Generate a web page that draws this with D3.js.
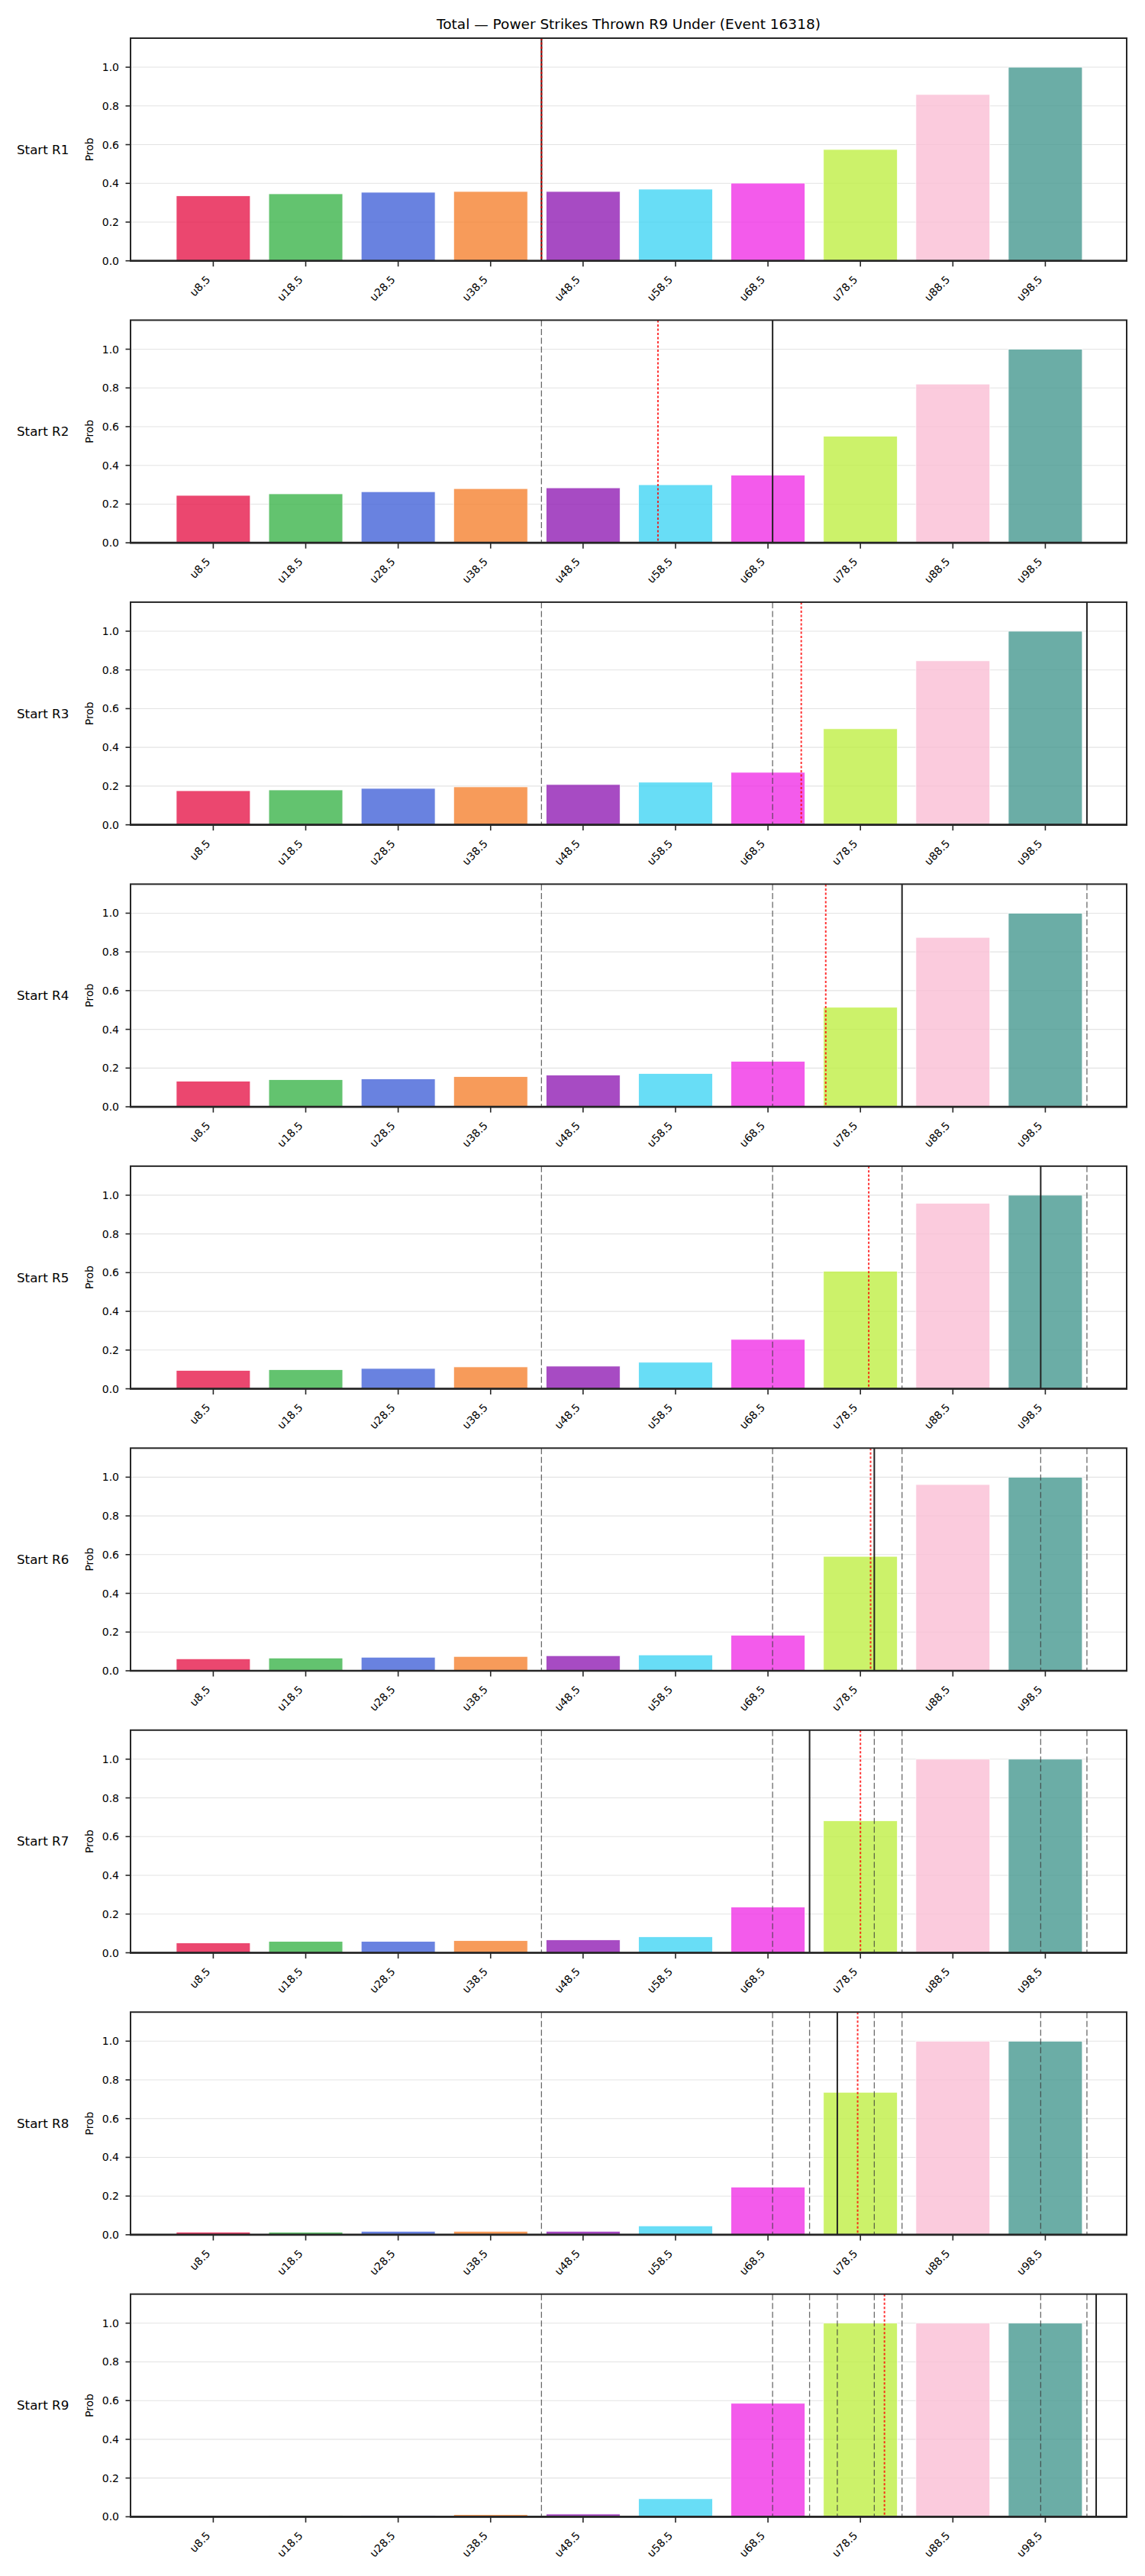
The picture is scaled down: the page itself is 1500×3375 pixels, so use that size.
<!DOCTYPE html>
<html>
<head>
<meta charset="utf-8">
<script src="https://cdn.jsdelivr.net/npm/d3@7"></script>
<style>
  html, body { margin: 0; padding: 0; background: #ffffff; }
  svg { display: block; }
  text { font-family: "DejaVu Sans", sans-serif; fill: #000; }
</style>
</head>
<body>
<div id="chart"></div>
<script>
// ---------------- data ----------------
const title = "Total \u2014 Power Strikes Thrown R9 Under (Event 16318)";
const categories = ["u8.5", "u18.5", "u28.5", "u38.5", "u48.5", "u58.5", "u68.5", "u78.5", "u88.5", "u98.5"];
const thresholds = [8.5, 18.5, 28.5, 38.5, 48.5, 58.5, 68.5, 78.5, 88.5, 98.5];
const barColors = ["#e6194b", "#3cb44b", "#4363d8", "#f58231", "#911eb4", "#42d4f4", "#f032e6", "#bfef45", "#fabed4", "#469990"];
const roundLabels = ["Start R1", "Start R2", "Start R3", "Start R4", "Start R5", "Start R6", "Start R7", "Start R8", "Start R9"];

const probR1 = [0.336, 0.346, 0.354, 0.358, 0.358, 0.370, 0.401, 0.575, 0.859, 1.0];
const probR2 = [0.245, 0.253, 0.264, 0.280, 0.284, 0.300, 0.350, 0.551, 0.820, 1.0];
const probR3 = [0.176, 0.180, 0.188, 0.196, 0.208, 0.220, 0.271, 0.496, 0.847, 1.0];
const probR4 = [0.132, 0.140, 0.144, 0.156, 0.164, 0.172, 0.235, 0.514, 0.875, 1.0];
const probR5 = [0.095, 0.099, 0.105, 0.113, 0.117, 0.137, 0.255, 0.607, 0.958, 1.0];
const probR6 = [0.062, 0.066, 0.070, 0.074, 0.078, 0.082, 0.184, 0.591, 0.962, 1.0];
const probR7 = [0.051, 0.059, 0.059, 0.063, 0.067, 0.083, 0.236, 0.682, 1.0, 1.0];
const probR8 = [0.014, 0.013, 0.018, 0.018, 0.018, 0.046, 0.246, 0.736, 1.0, 1.0];
const probR9 = [0.004, 0.007, 0.007, 0.011, 0.014, 0.093, 0.586, 1.0, 1.0, 1.0];
const probs = [probR1, probR2, probR3, probR4, probR5, probR6, probR7, probR8, probR9];

// value at start of each round (solid black line)
const currentValue = [44, 69, 103, 83, 98, 80, 73, 76, 104];
// projected value (red dotted line)
const projectedValue = [44, 56.6, 72.1, 74.75, 79.4, 79.6, 78.5, 78.2, 81.1];

const yTicks = [0.0, 0.2, 0.4, 0.6, 0.8, 1.0];

// ---------------- layout ----------------
const W = 1500, H = 3375;
const axLeft = 171, axRight = 1476;
const panelTop0 = 50, panelStep = 369.46, panelH = 291.7;

const svg = d3.select("#chart").append("svg")
  .attr("width", W).attr("height", H)
  .attr("viewBox", `0 0 ${W} ${H}`);

svg.append("text")
  .attr("x", (axLeft + axRight) / 2)
  .attr("y", 38)
  .attr("text-anchor", "middle")
  .style("font-size", "18.5px")
  .text(title);

const x = d3.scaleLinear().domain([-0.45, 107.3]).range([axLeft, axRight]);
const barW = x(8) - x(0);

probs.forEach((vals, r) => {
  const top = panelTop0 + panelStep * r;
  const bottom = top + panelH;
  const y = d3.scaleLinear().domain([0, 1.15]).range([bottom, top]);
  const g = svg.append("g");

  // gridlines
  g.selectAll("line.grid").data(yTicks.filter(t => t > 0)).enter().append("line")
    .attr("x1", axLeft).attr("x2", axRight)
    .attr("y1", d => y(d)).attr("y2", d => y(d))
    .attr("stroke", "#e3e3e3").attr("stroke-width", 1.1);

  // bars
  g.selectAll("rect.bar").data(vals).enter().append("rect")
    .attr("x", (d, i) => x(thresholds[i]) - barW / 2)
    .attr("width", barW)
    .attr("y", d => y(d))
    .attr("height", d => y(0) - y(d))
    .attr("fill", (d, i) => barColors[i])
    .attr("fill-opacity", 0.8)
    .attr("stroke", "#ffffff")
    .attr("stroke-width", 0.8);

  // previous rounds' values (gray dashed)
  const prev = currentValue.slice(0, r);
  g.selectAll("line.prev").data(prev).enter().append("line")
    .attr("x1", d => x(d)).attr("x2", d => x(d))
    .attr("y1", top).attr("y2", bottom)
    .attr("stroke", "#3a3a3a").attr("stroke-opacity", 0.75)
    .attr("stroke-width", 1.3)
    .attr("stroke-dasharray", "8,3.5");

  // current value (black solid)
  g.append("line")
    .attr("x1", x(currentValue[r])).attr("x2", x(currentValue[r]))
    .attr("y1", top).attr("y2", bottom)
    .attr("stroke", "#222").attr("stroke-width", 2);

  // projected value (red dotted)
  g.append("line")
    .attr("x1", x(projectedValue[r])).attr("x2", x(projectedValue[r]))
    .attr("y1", top).attr("y2", bottom)
    .attr("stroke", "#ff0000").attr("stroke-opacity", 0.8)
    .attr("stroke-width", 2)
    .attr("stroke-dasharray", "3,2.5");

  // frame
  g.append("rect")
    .attr("x", axLeft).attr("y", top)
    .attr("width", axRight - axLeft).attr("height", panelH)
    .attr("fill", "none").attr("stroke", "#262626").attr("stroke-width", 2);
  g.append("line")
    .attr("x1", axLeft - 1).attr("x2", axRight + 1)
    .attr("y1", bottom).attr("y2", bottom)
    .attr("stroke", "#262626").attr("stroke-width", 2.6);

  // y axis ticks
  const yAx = g.append("g");
  yTicks.forEach(t => {
    yAx.append("line")
      .attr("x1", axLeft - 6.5).attr("x2", axLeft)
      .attr("y1", y(t)).attr("y2", y(t))
      .attr("stroke", "#262626").attr("stroke-width", 1.6);
    yAx.append("text")
      .attr("x", 156).attr("y", y(t))
      .attr("dy", "0.36em")
      .attr("text-anchor", "end")
      .style("font-size", "14px")
      .text(d3.format(".1f")(t));
  });

  // x axis ticks
  const xAx = g.append("g");
  thresholds.forEach((v, i) => {
    xAx.append("line")
      .attr("x1", x(v)).attr("x2", x(v))
      .attr("y1", bottom).attr("y2", bottom + 7.5)
      .attr("stroke", "#262626").attr("stroke-width", 1.6);
    xAx.append("text")
      .attr("transform", `translate(${x(v) - 3},${bottom + 25.5}) rotate(-45)`)
      .attr("text-anchor", "end")
      .style("font-size", "14px")
      .text(categories[i]);
  });

  // y label
  g.append("text")
    .attr("transform", `translate(122,${(top + bottom) / 2}) rotate(-90)`)
    .attr("text-anchor", "middle")
    .style("font-size", "13.9px")
    .text("Prob");

  // row label
  g.append("text")
    .attr("x", 22).attr("y", (top + bottom) / 2)
    .attr("dy", "0.35em")
    .style("font-size", "16.7px")
    .text(roundLabels[r]);
});
</script>
</body>
</html>
